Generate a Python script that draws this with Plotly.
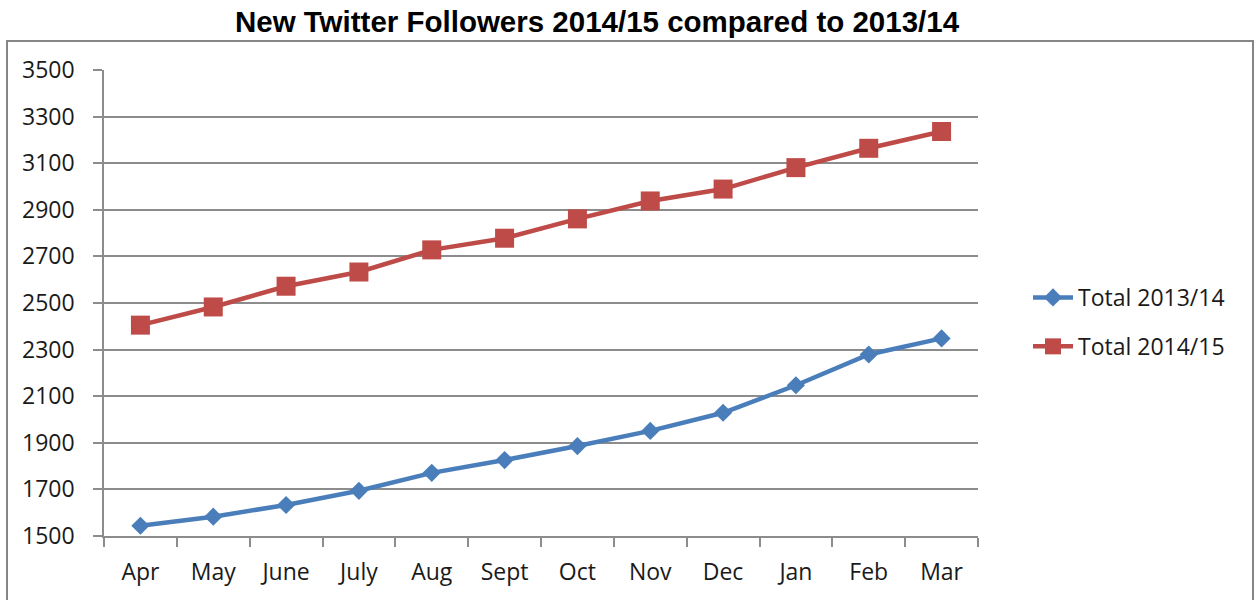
import plotly.graph_objects as go

months = ["Apr", "May", "June", "July", "Aug", "Sept", "Oct", "Nov", "Dec", "Jan", "Feb", "Mar"]
total_2013_14 = [1544, 1583, 1633, 1694, 1771, 1826, 1886, 1951, 2029, 2147, 2279, 2348]
total_2014_15 = [2405, 2483, 2572, 2633, 2728, 2778, 2861, 2938, 2989, 3081, 3164, 3236]
y_ticks = [1500, 1700, 1900, 2100, 2300, 2500, 2700, 2900, 3100, 3300, 3500]

BLUE = "#4A7EBB"
RED = "#BE4B48"
GRID = "#8C8C8C"
TXT_FONT = "Open Sans"
TXT_COLOR = "#1a1a1a"

W, H = 1256, 600
L, R, T, B = 104, 978, 70, 536

fig = go.Figure()
fig.add_trace(go.Scatter(
    x=months, y=total_2013_14, name="Total 2013/14", mode="lines+markers",
    line=dict(color=BLUE, width=4.5),
    marker=dict(symbol="diamond", size=14, color=BLUE),
    legendgroup="a",
))
fig.add_trace(go.Scatter(
    x=months, y=total_2014_15, name="Total 2014/15", mode="lines+markers",
    line=dict(color=RED, width=4.5),
    marker=dict(symbol="square", size=19, color=RED),
    legendgroup="b",
))

def px_x(p):
    return (p - L) / (R - L)

def px_y(p):
    return (B - p) / (B - T)

fig.update_layout(
    width=W, height=H,
    margin=dict(l=L, r=W - R, t=T, b=H - B, pad=0),
    paper_bgcolor="white", plot_bgcolor="white",
    title=dict(
        text="<b>New Twitter Followers 2014/15 compared to 2013/14</b>",
        x=597 / W, xanchor="center", y=1 - 22 / H, yanchor="middle",
        font=dict(family="Liberation Sans, Arial", size=29.5, color="black"),
    ),
    showlegend=True,
    legend=dict(
        x=px_x(1028), xanchor="left", y=px_y(322), yanchor="middle",
        font=dict(family=TXT_FONT, size=23, color=TXT_COLOR),
        bgcolor="rgba(0,0,0,0)", borderwidth=0,
        tracegroupgap=16, itemwidth=40,
    ),
    xaxis=dict(
        type="category", range=[-0.5, 11.5],
        showgrid=False, showline=True, linecolor=GRID, linewidth=1.5,
        ticks="outside", tickson="boundaries", ticklen=9, tickcolor=GRID, tickwidth=1.5,
        tickfont=dict(family=TXT_FONT, size=23, color=TXT_COLOR),
        ticklabelstandoff=15,
        fixedrange=True,
    ),
    yaxis=dict(
        range=[1500, 3500], tickvals=y_ticks,
        showgrid=True, gridcolor=GRID, gridwidth=1.5,
        showline=True, linecolor=GRID, linewidth=1.5,
        ticks="outside", ticklen=9, tickcolor=GRID, tickwidth=1.5,
        tickfont=dict(family=TXT_FONT, size=23, color=TXT_COLOR),
        ticklabelstandoff=14,
        zeroline=False, fixedrange=True,
    ),
    shapes=[dict(
        type="rect", xref="paper", yref="paper",
        x0=px_x(7), x1=px_x(1253), y0=px_y(610), y1=px_y(41),
        line=dict(color="#868686", width=2), fillcolor="rgba(0,0,0,0)", layer="below",
    )],
)

fig.write_html("out.html")
